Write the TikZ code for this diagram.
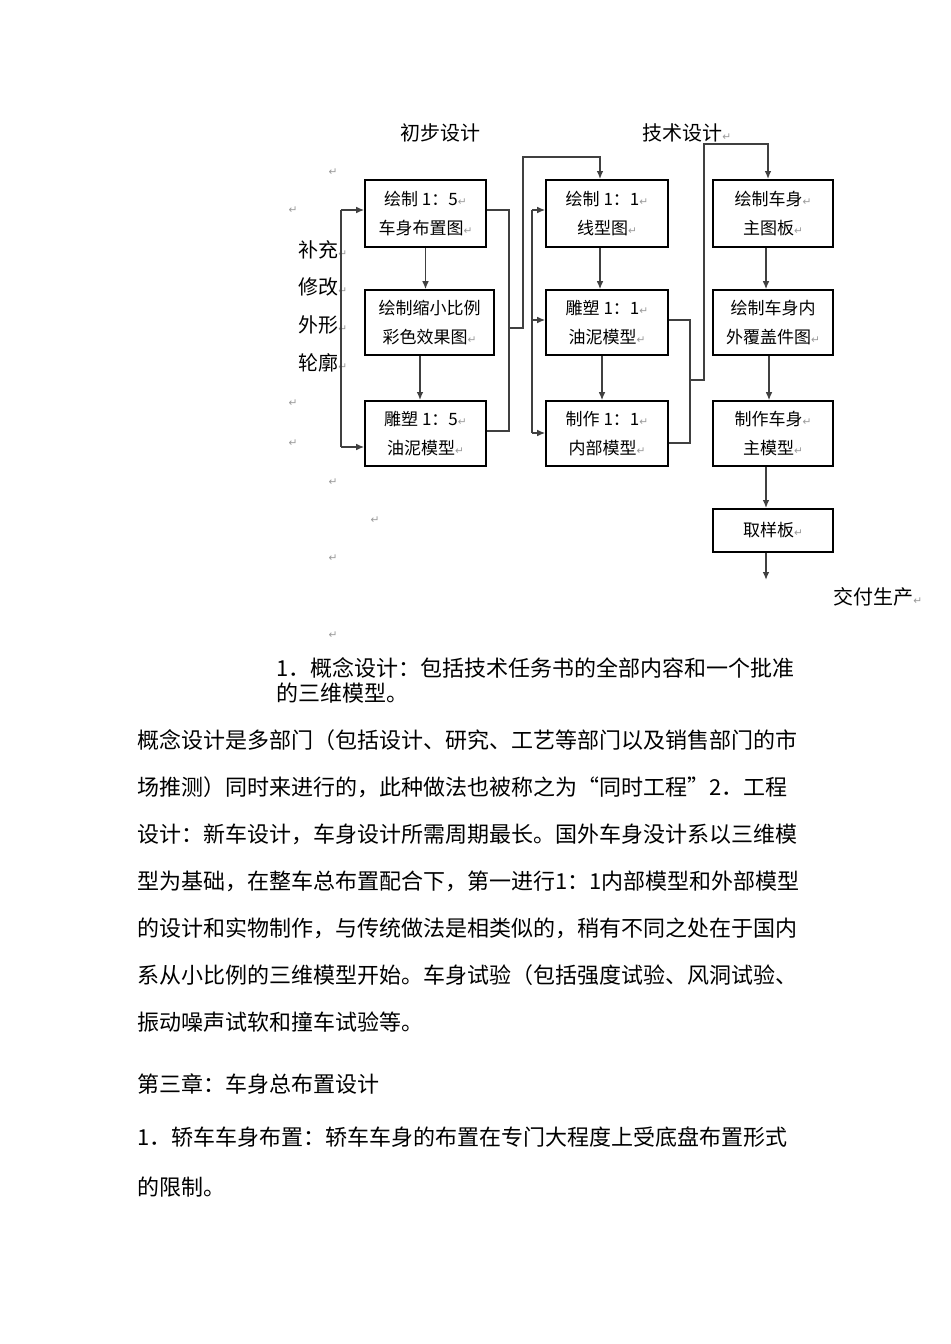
\documentclass[tikz,border=0pt]{standalone}
\usepackage{fontspec}
\setmainfont{Noto Sans CJK SC}
\newfontfamily\retfont{DejaVu Sans}
\usepackage{tikz}
\usetikzlibrary{positioning,calc,arrows.meta}
\definecolor{retgray}{HTML}{9A9A9A}
\definecolor{linegray}{HTML}{404040}
\newcommand{\ret}{{\retfont\fontsize{8pt}{8pt}\selectfont\textcolor{retgray}{↵}}}
\tikzset{stagebox/.style={draw,line width=1.3pt,inner sep=0pt,align=center,
    font=\fontsize{12.75pt}{21.75pt}\selectfont}}
\tikzset{heading/.style={inner sep=0pt,font=\fontsize{15pt}{15pt}\selectfont}}
\tikzset{bodyline/.style={inner sep=0pt,anchor=west,font=\fontsize{16.5pt}{16.5pt}\selectfont}}
\tikzset{link/.style={line width=0.9pt,draw=linegray}}
\tikzset{flow/.style={link,-{Latex[length=6pt,width=5pt]}}}

\begin{document}
\begin{tikzpicture}[x=0.75pt,y=-0.75pt]
    \useasboundingbox (0,0) rectangle (950,1344);

    % headings
    \node [heading] (h1) at (440,133) {初步设计};
    \node [heading,anchor=west] (h2) at (642,133) {技术设计\ret};

    %first column
    \node [stagebox,minimum width=90.75pt,minimum height=50.25pt] (b1) at (425.5,213.5) {绘制 1：5\ret\\车身布置图\ret};
    \node [stagebox,minimum width=96.75pt,minimum height=48.75pt] (b2) at (429.5,322.5) {绘制缩小比例\\彩色效果图\ret};
    \node [stagebox,minimum width=90.75pt,minimum height=48.75pt] (b3) at (425.5,433.5) {雕塑 1：5\ret\\油泥模型\ret};

    %second column
    \node [stagebox,minimum width=91.5pt,minimum height=50.25pt] (b4) at (607,213.5) {绘制 1：1\ret\\线型图\ret};
    \node [stagebox,minimum width=91.5pt,minimum height=48.75pt] (b5) at (607,322.5) {雕塑 1：1\ret\\油泥模型\ret};
    \node [stagebox,minimum width=91.5pt,minimum height=48.75pt] (b6) at (607,433.5) {制作 1：1\ret\\内部模型\ret};

    %third column
    \node [stagebox,minimum width=90pt,minimum height=50.25pt] (b7) at (773,213.5) {绘制车身\ret\\主图板\ret};
    \node [stagebox,minimum width=90pt,minimum height=48.75pt] (b8) at (773,322.5) {绘制车身内\\外覆盖件图\ret};
    \node [stagebox,minimum width=90pt,minimum height=48.75pt] (b9) at (773,433.5) {制作车身\ret\\主模型\ret};
    \node [stagebox,minimum width=90pt,minimum height=32.25pt] (b10) at (773,530.5) {取样板\ret};
    \node [heading,anchor=west] (deliv) at (833,597) {交付生产\ret};

    %side labels
    \node [heading,anchor=west] (l1) at (298,250) {补充\ret};
    \node [heading,anchor=west] (l2) at (298,287) {修改\ret};
    \node [heading,anchor=west] (l3) at (298,325) {外形\ret};
    \node [heading,anchor=west] (l4) at (298,363) {轮廓\ret};

    %stray marks
    \node [inner sep=0pt] (r1) at (333,172) {\ret};
    \node [inner sep=0pt] (r2) at (293,210) {\ret};
    \node [inner sep=0pt] (r3) at (293,403) {\ret};
    \node [inner sep=0pt] (r4) at (293,443) {\ret};
    \node [inner sep=0pt] (r5) at (333,482) {\ret};
    \node [inner sep=0pt] (r6) at (375,520) {\ret};
    \node [inner sep=0pt] (r7) at (333,558) {\ret};
    \node [inner sep=0pt] (r8) at (333,635) {\ret};

    %column 1 arrows
    \draw [flow] (b1.south) -- (b1.south |- b2.north);
    \coordinate (c23) at ($(b3.north)+(-5.5,0)$);
    \draw [flow,line width=1.5pt] (c23 |- b2.south) -- (c23);

    %feedback on the left
    \coordinate (fb1) at (341,210);
    \coordinate (fb2) at (341,447);
    \draw [link] (fb1) -- (fb2);
    \draw [flow] (fb1) -- (fb1 -| b1.west);
    \draw [flow] (fb2) -- (fb2 -| b3.west);

    %join to column 2
    \coordinate (mj1) at (509,210);
    \coordinate (mj2) at (509,431);
    \coordinate (mj3) at (509,328);
    \coordinate (up1) at (523,157);
    \coordinate (c4) at ($(b4.north)+(-7,0)$);
    \draw [link] (mj1 -| b1.east) -- (mj1) -- (mj2) -- (mj2 -| b3.east);
    \draw [flow,line width=1.3pt] (mj3) -| (up1) -- (up1 -| c4) -- (c4);

    \coordinate (ds1) at (532,210);
    \coordinate (ds2) at (532,320);
    \coordinate (ds3) at (532,433);
    \draw [link] (ds1) -- (ds3);
    \draw [flow] (ds1) -- (ds1 -| b4.west);
    \draw [flow] (ds2) -- (ds2 -| b5.west);
    \draw [flow] (ds3) -- (ds3 -| b6.west);

    %column 2 arrows
    \coordinate (c45) at ($(b4.south)+(-7,0)$);
    \draw [flow] (c45) -- (c45 |- b5.north);
    \coordinate (c56) at ($(b5.south)+(-5,0)$);
    \draw [flow] (c56) -- (c56 |- b6.north);

    %join to column 3
    \coordinate (mk1) at (690,320);
    \coordinate (mk2) at (690,443);
    \coordinate (mk3) at (690,380);
    \coordinate (up2) at (704,144);
    \coordinate (c7) at ($(b7.north)+(-5,0)$);
    \draw [link] (mk1 -| b5.east) -- (mk1) -- (mk2) -- (mk2 -| b6.east);
    \draw [flow,line width=1.3pt] (mk3) -| (up2) -- (up2 -| c7) -- (c7);

    %column 3 arrows
    \coordinate (c78) at ($(b7.south)+(-7,0)$);
    \draw [flow] (c78) -- (c78 |- b8.north);
    \coordinate (c89) at ($(b8.south)+(-4,0)$);
    \draw [flow] (c89) -- (c89 |- b9.north);
    \coordinate (c910) at ($(b9.south)+(-7,0)$);
    \draw [flow,line width=1.3pt] (c910) -- (c910 |- b10.north);
    \coordinate (out) at (766,580);
    \draw [flow,line width=1.3pt] (out |- b10.south) -- (out);

    %text below
    \node [bodyline] (t1) at (276,668) {1．概念设计：包括技术任务书的全部内容和一个批准};
    \node [bodyline] (t2) at (276,693) {的三维模型。};
    \node [bodyline] (t3) at (137,740) {概念设计是多部门（包括设计、研究、工艺等部门以及销售部门的市};
    \node [bodyline] (t4) at (137,787) {场推测）同时来进行的，此种做法也被称之为“同时工程”2．工程};
    \node [bodyline] (t5) at (137,834) {设计：新车设计，车身设计所需周期最长。国外车身没计系以三维模};
    \node [bodyline] (t6) at (137,881) {型为基础，在整车总布置配合下，第一进行1：1内部模型和外部模型};
    \node [bodyline] (t7) at (137,928) {的设计和实物制作，与传统做法是相类似的，稍有不同之处在于国内};
    \node [bodyline] (t8) at (137,975) {系从小比例的三维模型开始。车身试验（包括强度试验、风洞试验、};
    \node [bodyline] (t9) at (137,1022) {振动噪声试软和撞车试验等。};
    \node [bodyline] (t10) at (137,1084) {第三章：车身总布置设计};
    \node [bodyline] (t11) at (137,1137) {1．轿车车身布置：轿车车身的布置在专门大程度上受底盘布置形式};
    \node [bodyline] (t12) at (137,1187) {的限制。};
\end{tikzpicture}
\end{document}
